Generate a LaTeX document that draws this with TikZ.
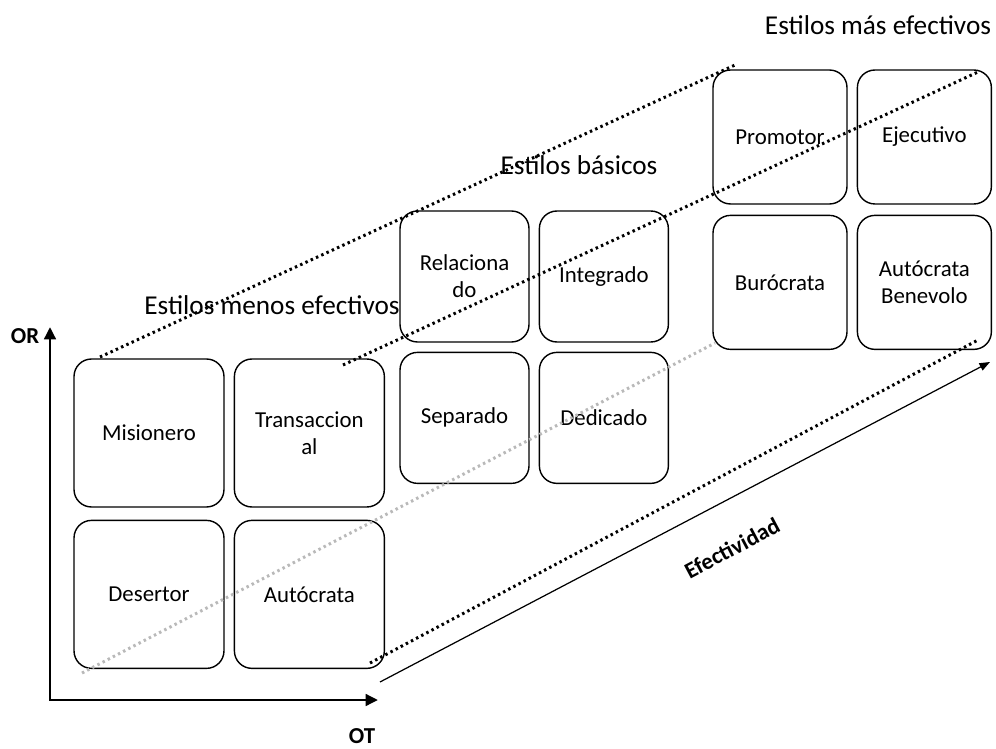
\documentclass[tikz,border=0pt]{standalone}
\usepackage{fontspec}
\setmainfont{Carlito}
\usepackage{tikz}
\usetikzlibrary{arrows.meta, positioning, calc}

\tikzset{
	caja/.style={draw, rounded corners=0.35cm, line width=0.8pt, align=center, inner sep=2pt},
	cajamenos/.style={caja, minimum width=3cm, minimum height=2.96cm},
	cajabas/.style={caja, minimum width=2.58cm, minimum height=2.62cm},
	cajamas/.style={caja, minimum width=2.68cm, minimum height=2.68cm},
	titulo/.style={font=\fontsize{15.5}{18}\selectfont},
	guia/.style={line width=1.7pt, dash pattern=on 1.4pt off 1.9pt},
	eje/.style={line width=1.7pt, line join=miter, {Triangle[length=7pt,width=6.5pt]}-{Triangle[length=7pt,width=6.5pt]}},
	flecha/.style={line width=0.7pt, -{Triangle[length=6pt,width=4.5pt]}}
}

\begin{document}
\begin{tikzpicture}[x=0.02cm, y=-0.02cm, every node/.style={font=\fontsize{13}{15.5}\selectfont}]
	\useasboundingbox (0,0) rectangle (996,749);

	% ejes OR / OT
	\coordinate (ortop) at (50,327);
	\coordinate (origen) at (50,700);
	\coordinate (otend) at (378,700);
	\draw[eje] (ortop) -- (origen) -- (otend);
	\node[font=\fontsize{13}{15.5}\selectfont\bfseries] (or) at (25,336) {OR};
	\node[font=\fontsize{13}{15.5}\selectfont\bfseries, inner sep=1pt] (ot) at (362,736) {OT};

	% estilos menos efectivos
	\node[cajamenos] (mis) at (149,433) {Misionero};
	\node[cajamenos, right=0.18cm of mis] (trans) {Transaccion\\al};
	\node[cajamenos, below=0.24cm of mis] (des) {Desertor};
	\node[cajamenos, right=0.18cm of des] (autoc) {Autócrata};

	% estilos basicos
	\node[cajabas] (rel) at (464.5,276.5) {Relaciona\\do};
	\node[cajabas, right=0.18cm of rel] (integ) {Integrado};
	\node[cajabas, below=0.18cm of rel] (sep) {Separado};
	\node[cajabas, right=0.18cm of sep] (ded) {Dedicado};

	% estilos mas efectivos
	\node[cajamas] (prom) at (780,137) {Promotor};
	\node[cajamas, right=0.18cm of prom] (ejec) {Ejecutivo};
	\node[cajamas, below=0.2cm of prom] (bur) {Burócrata};
	\node[cajamas, right=0.18cm of bur] (benev) {Autócrata\\Benevolo};

	% lineas guia
	\coordinate (g1a) at (100,357);
	\coordinate (g1b) at (735,65);
	\coordinate (g2a) at (343,365);
	\coordinate (g2b) at (978,72);
	\coordinate (g3a) at (82,673);
	\coordinate (g3b) at (715,343);
	\coordinate (g4a) at (370,663);
	\coordinate (g4b) at (978,340);
	\draw[guia] (g1a) -- (g1b);
	\draw[guia] (g2a) -- (g2b);
	\draw[guia, gray!55] (g3a) -- (g3b);
	\draw[guia] (g4a) -- (g4b);

	% titulos
	\node[titulo] (tmas) at (878,25) {Estilos más efectivos};
	\node[titulo] (tbas) at (579,165) {Estilos básicos};
	\node[titulo] (tmen) at (272,305) {Estilos menos efectivos};

	% efectividad
	\coordinate (efa) at (380,682);
	\coordinate (efb) at (990,362);
	\draw[flecha] (efa) -- (efb);
	\node[rotate=28, font=\fontsize{13}{15.5}\selectfont\bfseries] (efect) at (732,548) {Efectividad};
\end{tikzpicture}
\end{document}
